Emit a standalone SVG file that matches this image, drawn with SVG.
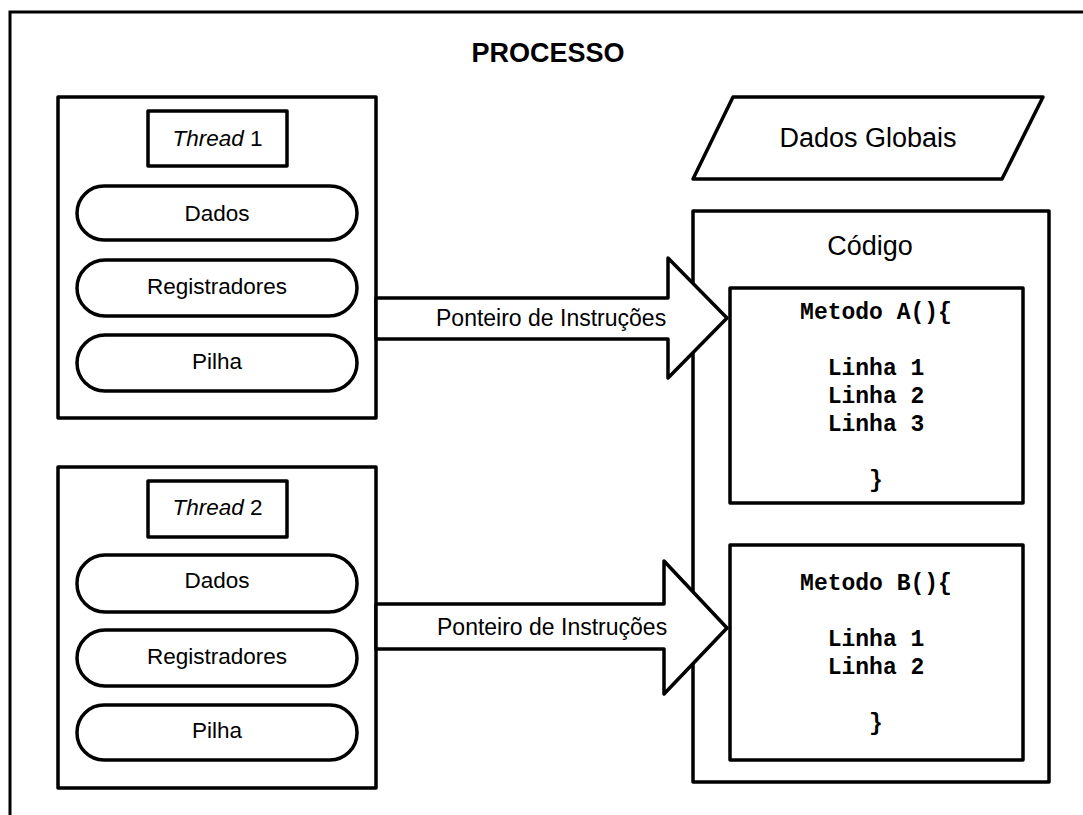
<svg xmlns="http://www.w3.org/2000/svg" width="1083" height="815" viewBox="0 0 1083 815">
  <style>
    .box { fill: #fff; stroke: #000; stroke-width: 3.5; stroke-linejoin: round; }
    .frame { fill: none; stroke: #000; stroke-width: 3; }
    .sans { font-family: "Liberation Sans", Arial, sans-serif; fill: #000; }
    .mono { font-family: "Liberation Mono", "Courier New", monospace; font-weight: bold; font-size: 23px; fill: #000; text-anchor: middle; }
    .lbl { font-size: 22.5px; text-anchor: middle; }
    .big { font-size: 27px; text-anchor: middle; }
    .ptr { font-size: 23px; }
  </style>

  <!-- process frame (open at right and bottom) -->
  <g id="processo">
    <rect class="frame" x="10" y="12" width="1100" height="900"/>
    <text class="sans" x="548" y="62" font-size="27" font-weight="bold" text-anchor="middle">PROCESSO</text>
  </g>

  <!-- thread 1 -->
  <g id="thread1">
    <rect class="box" x="58" y="97" width="318" height="321"/>
    <rect class="box" x="148" y="111" width="139" height="55"/>
    <text class="sans lbl" x="217.5" y="146"><tspan font-style="italic">Thread</tspan> 1</text>
    <rect class="box" x="77" y="186" width="280" height="54" rx="27"/>
    <text class="sans lbl" x="217" y="221">Dados</text>
    <rect class="box" x="77" y="260" width="280" height="56" rx="28"/>
    <text class="sans lbl" x="217" y="294">Registradores</text>
    <rect class="box" x="77" y="335" width="280" height="56" rx="28"/>
    <text class="sans lbl" x="217" y="369">Pilha</text>
  </g>

  <!-- thread 2 -->
  <g id="thread2">
    <rect class="box" x="58" y="467" width="318" height="321"/>
    <rect class="box" x="148" y="481" width="139" height="56"/>
    <text class="sans lbl" x="217.5" y="515"><tspan font-style="italic">Thread</tspan> 2</text>
    <rect class="box" x="77" y="555" width="280" height="57" rx="28"/>
    <text class="sans lbl" x="217" y="588">Dados</text>
    <rect class="box" x="77" y="630" width="280" height="56" rx="28"/>
    <text class="sans lbl" x="217" y="664">Registradores</text>
    <rect class="box" x="77" y="705" width="280" height="55" rx="27"/>
    <text class="sans lbl" x="217" y="738">Pilha</text>
  </g>

  <!-- global data -->
  <g id="dados-globais">
    <polygon class="box" points="733,97 1043,97 1002,179 693,179"/>
    <text class="sans big" x="868" y="147">Dados Globais</text>
  </g>

  <!-- code area with two methods -->
  <g id="codigo">
    <rect class="box" x="693" y="211" width="356" height="571"/>
    <text class="sans big" x="870" y="255">Código</text>
  </g>

  <g id="metodo-a">
    <rect class="box" x="730" y="288" width="293" height="215"/>
    <text class="mono" x="876" y="319">Metodo A(){</text>
    <text class="mono" x="876" y="375">Linha 1</text>
    <text class="mono" x="876" y="403">Linha 2</text>
    <text class="mono" x="876" y="431">Linha 3</text>
    <text class="mono" x="876" y="487">}</text>
  </g>

  <g id="metodo-b">
    <rect class="box" x="730" y="545" width="293" height="215"/>
    <text class="mono" x="876" y="590">Metodo B(){</text>
    <text class="mono" x="876" y="646">Linha 1</text>
    <text class="mono" x="876" y="674">Linha 2</text>
    <text class="mono" x="876" y="730">}</text>
  </g>

  <!-- instruction pointer arrows -->
  <g id="connectors">
    <polygon class="box" points="376,298 668,298 668,258 727,318 668,378 668,339 376,339"/>
    <text class="sans ptr" x="436" y="326">Ponteiro de Instruções</text>
    <polygon class="box" points="376,604 664,604 664,561 727,628 664,694 664,649 376,649"/>
    <text class="sans ptr" x="437" y="635">Ponteiro de Instruções</text>
  </g>
</svg>
